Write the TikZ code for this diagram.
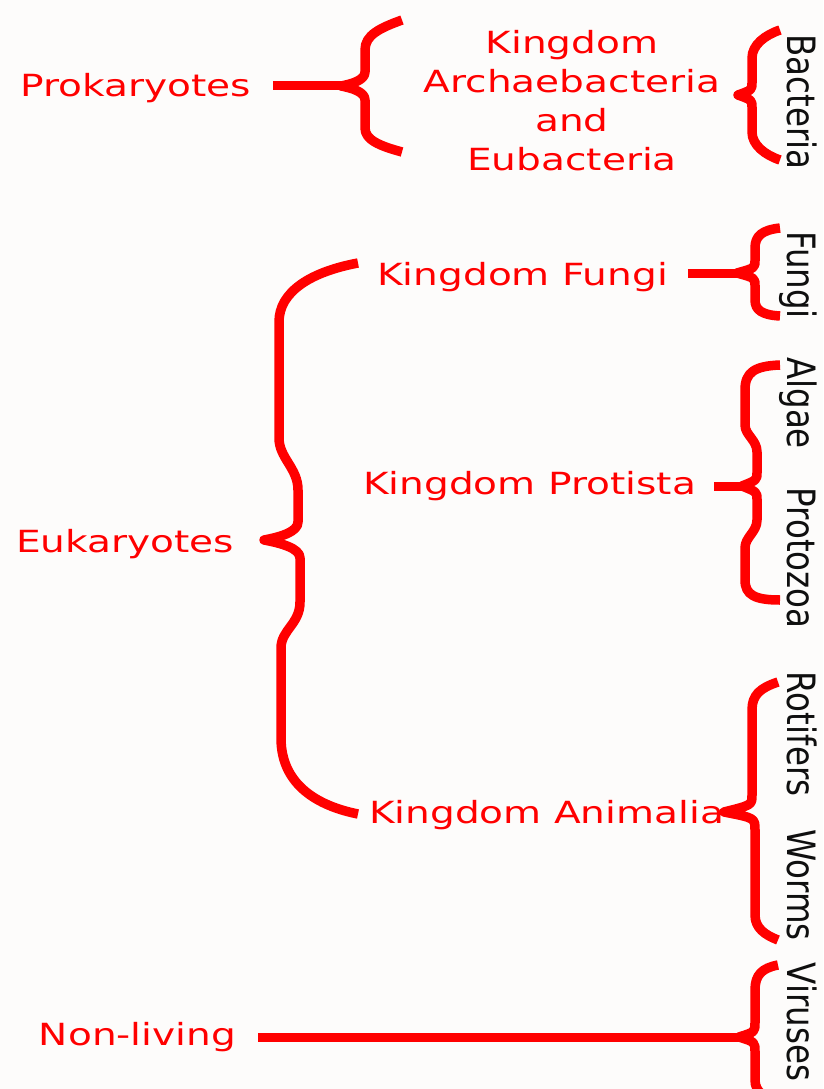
\documentclass[tikz,border=0pt]{standalone}
\usepackage{fontspec}
\setmainfont{DejaVu Sans}
\usepackage{graphicx}
\definecolor{bg}{RGB}{253,252,251}
\definecolor{brred}{RGB}{255,0,0}
\definecolor{ink}{RGB}{15,15,15}
\newcommand\hx[1]{\scalebox{1.28}[1]{#1}}
\newcommand\vx[1]{\scalebox{1}[1.2]{#1}}
\begin{document}
\begin{tikzpicture}[x=1pt,y=-1pt,
 redlbl/.style={text=brred, inner sep=0pt, font=\fontsize{30.5}{39}\selectfont, anchor=base},
 blklbl/.style={text=ink, inner sep=0pt, font=\fontsize{32.5}{39}\selectfont, rotate=-90, anchor=base},
 bracestroke/.style={draw=brred, line width=9.5pt, line join=round},
 linkline/.style={draw=brred, line width=9pt}]
\fill[bg] (0,0) rectangle (823,1089);
\useasboundingbox (0,0) rectangle (823,1089);
\clip (0,0) rectangle (823,1089);

% red labels
\node[redlbl] (prok) at (135.5,97) {\hx{Prokaryotes}};
\node[redlbl, align=center, anchor=north] (arch) at (572,30) {\hx{Kingdom}\\\hx{Archaebacteria}\\\hx{and}\\\hx{Eubacteria}};
\node[redlbl] (euk) at (125,552) {\hx{Eukaryotes}};
\node[redlbl] (fungi) at (522.5,285) {\hx{Kingdom Fungi}};
\node[redlbl] (prot) at (529.5,494) {\hx{Kingdom Protista}};
\node[redlbl] (anim) at (546.5,823) {\hx{Kingdom Animalia}};
\node[redlbl] (nonl) at (137.5,1045) {\hx{Non-living}};

% black rotated labels
\node[blklbl] (bact) at (787,102) {\vx{Bacteria}};
\node[blklbl] (fung) at (787,275) {\vx{Fungi}};
\node[blklbl] (alg) at (787,403) {\vx{Algae}};
\node[blklbl] (proto) at (787,558) {\vx{Protozoa}};
\node[blklbl] (rot) at (787,734) {\vx{Rotifers}};
\node[blklbl] (worm) at (787,885) {\vx{Worms}};
\node[blklbl] (vir) at (787,1022) {\vx{Viruses}};

% Prokaryotes brace
\coordinate (ptip) at (341,86);
\draw[bracestroke] (402,20) .. controls (380,28) and (365,35) .. (365,50) -- (365,72) .. controls (365,80) and (352,84) .. (ptip) .. controls (352,88) and (365,92) .. (365,100) -- (365,128) .. controls (365,140) and (380,146) .. (402,152);
\draw[linkline] ([xshift=22pt]prok.east |- ptip) -- (ptip);

% Bacteria brace
\coordinate (btip) at (738,95);
\draw[bracestroke] (780,30) .. controls (765,35) and (752,45) .. (752,58) -- (752,82) .. controls (752,90) .. (btip) .. controls (752,100) .. (752,108) -- (752,132) .. controls (752,145) and (765,155) .. (780,160);

% Fungi brace
\coordinate (ftip) at (737,273);
\draw[bracestroke] (780,228) .. controls (762,230) and (755,236) .. (755,248) -- (755,260) .. controls (755,268) .. (ftip) .. controls (755,278) .. (755,286) -- (755,300) .. controls (755,310) and (762,315) .. (780,316);
\draw[linkline] ([xshift=20pt]fungi.east |- ftip) -- (ftip);

% Protista brace
\coordinate (prtip) at (742,486);
\draw[bracestroke] (780,365) .. controls (755,366) and (745,372) .. (745,390) -- (745,425) .. controls (745,435) and (757,440) .. (757,452) -- (757,472) .. controls (757,480) .. (prtip) .. controls (757,492) .. (757,500) -- (757,520) .. controls (757,532) and (745,537) .. (745,548) -- (745,580) .. controls (745,595) and (755,600) .. (780,600);
\draw[linkline] ([xshift=18pt]prot.east |- prtip) -- (prtip);

% Animalia brace
\coordinate (atip) at (724,812);
\draw[bracestroke] (778,682) .. controls (760,688) and (752,695) .. (752,710) -- (752,795) .. controls (752,805) .. (atip) .. controls (755,818) .. (755,830) -- (755,915) .. controls (755,928) and (765,935) .. (778,940);

% Viruses brace
\coordinate (vtip) at (739,1037);
\draw[bracestroke] (778,965) .. controls (762,968) and (755,975) .. (755,990) -- (755,1022) .. controls (755,1032) .. (vtip) .. controls (755,1042) .. (755,1052) -- (755,1080) .. controls (755,1092) and (765,1098) .. (778,1102);
\draw[linkline] ([xshift=22pt]nonl.east |- vtip) -- (vtip);

% Eukaryotes brace
\coordinate (etip) at (264,540);
\draw[bracestroke] (358,263) .. controls (310,272) and (279,292) .. (279,322) -- (279,438) .. controls (279,458) and (298,468) .. (298,490) -- (298,522) .. controls (298,532) and (280,537) .. (etip) .. controls (280,543) and (300,548) .. (300,558) -- (300,602) .. controls (300,624) and (281,630) .. (281,648) -- (281,738) .. controls (281,785) and (318,806) .. (358,814);
\end{tikzpicture}
\end{document}
